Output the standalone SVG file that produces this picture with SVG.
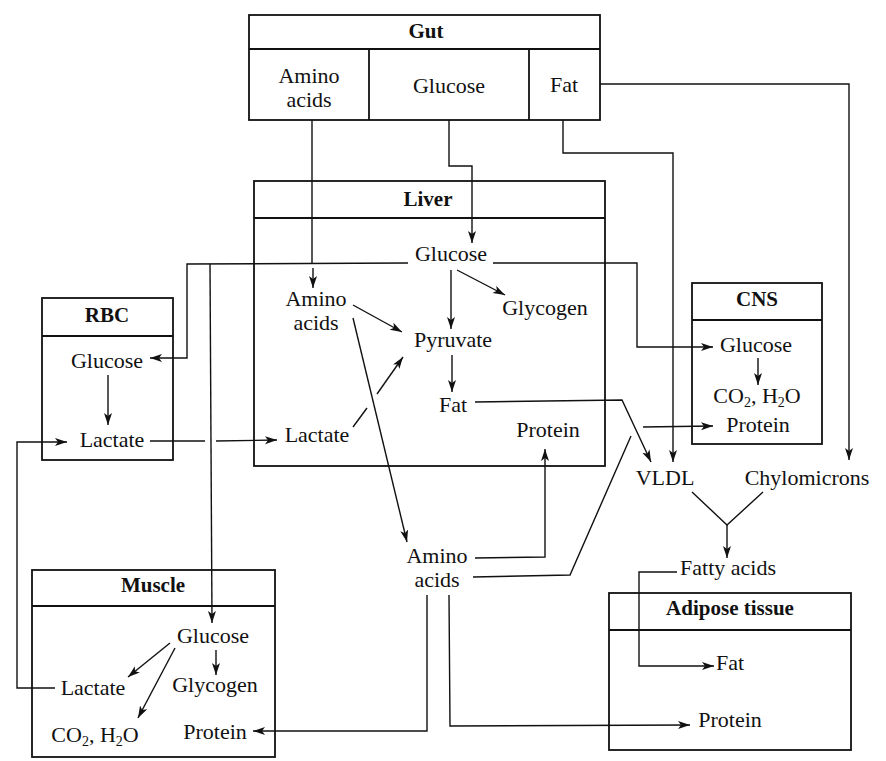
<svg xmlns="http://www.w3.org/2000/svg" width="886" height="761" viewBox="0 0 886 761">
<style>
.box{fill:none;stroke:#111;stroke-width:1.8}
.ln{fill:none;stroke:#111;stroke-width:1.4}
.ar{marker-end:url(#ah)}
text{font-family:"Liberation Serif","Times New Roman",serif;font-size:22px;fill:#111;text-anchor:middle}
.h{font-weight:bold;font-size:21px}
.sub{font-size:14px}
</style>
<defs>
<marker id="ah" markerUnits="userSpaceOnUse" markerWidth="14" markerHeight="10" refX="12" refY="4" orient="auto">
<path d="M0,0 L12,4 L0,8 L3,4 z" fill="#111"/>
</marker>
</defs>
<rect width="886" height="761" fill="#fff"/>

<g id="gut">
<rect class="box" x="249" y="15" width="351" height="105"/>
<line class="box" x1="249" y1="49" x2="600" y2="49"/>
<line class="box" x1="369" y1="49" x2="369" y2="120"/>
<line class="box" x1="529" y1="49" x2="529" y2="120"/>
<text class="h" x="426" y="38">Gut</text>
<text x="309" y="83">Amino</text>
<text x="309" y="107">acids</text>
<text x="449" y="93">Glucose</text>
<text x="564" y="92">Fat</text>
</g>

<g id="liver">
<rect class="box" x="254" y="181" width="351" height="285"/>
<line class="box" x1="254" y1="218" x2="605" y2="218"/>
<text class="h" x="428" y="206">Liver</text>
<text x="451" y="261">Glucose</text>
<text x="316" y="306">Amino</text>
<text x="316" y="330">acids</text>
<text x="545" y="315">Glycogen</text>
<text x="453" y="347">Pyruvate</text>
<text x="453" y="412">Fat</text>
<text x="317" y="442">Lactate</text>
<text x="548" y="437">Protein</text>
</g>

<g id="rbc">
<rect class="box" x="42" y="298" width="131" height="162"/>
<line class="box" x1="42" y1="336" x2="173" y2="336"/>
<text class="h" x="107" y="322">RBC</text>
<text x="107" y="368">Glucose</text>
<text x="112" y="447">Lactate</text>
</g>

<g id="cns">
<rect class="box" x="692" y="283" width="130" height="161"/>
<line class="box" x1="692" y1="320" x2="822" y2="320"/>
<text class="h" x="757" y="306">CNS</text>
<text x="756" y="352">Glucose</text>
<text x="757" y="403">CO<tspan class="sub" dy="4">2</tspan><tspan dy="-4">, H</tspan><tspan class="sub" dy="4">2</tspan><tspan dy="-4">O</tspan></text>
<text x="758" y="432">Protein</text>
</g>

<g id="lipoproteins">
<text x="665" y="485">VLDL</text>
<text x="807" y="485">Chylomicrons</text>
<text x="728" y="575">Fatty acids</text>
</g>

<g id="blood-amino">
<text x="437" y="563">Amino</text>
<text x="437" y="587">acids</text>
</g>

<g id="adipose">
<rect class="box" x="609" y="593" width="242" height="157"/>
<line class="box" x1="609" y1="630" x2="851" y2="630"/>
<text class="h" x="730" y="615">Adipose tissue</text>
<text x="730" y="670">Fat</text>
<text x="730" y="727">Protein</text>
</g>

<g id="muscle">
<rect class="box" x="32" y="570" width="243" height="187"/>
<line class="box" x1="32" y1="606" x2="275" y2="606"/>
<text class="h" x="153" y="592">Muscle</text>
<text x="213" y="643">Glucose</text>
<text x="215" y="692">Glycogen</text>
<text x="93" y="695">Lactate</text>
<text x="95" y="742">CO<tspan class="sub" dy="4">2</tspan><tspan dy="-4">, H</tspan><tspan class="sub" dy="4">2</tspan><tspan dy="-4">O</tspan></text>
<text x="215" y="739">Protein</text>
</g>

<g id="connectors">
<line class="ln" x1="312" y1="120" x2="312" y2="263"/>
<line class="ln ar" x1="313" y1="268" x2="313" y2="288"/>
<polyline class="ln ar" points="449,120 449,166 472,166 472,243"/>
<polyline class="ln ar" points="563,120 563,153 673,153 673,462"/>
<polyline class="ln ar" points="600,84 849,84 849,460"/>
<polyline class="ln ar" points="408,263 187,264 187,358 150,358"/>
<line class="ln ar" x1="210" y1="264" x2="212" y2="623"/>
<polyline class="ln ar" points="493,263 637,263 637,347 713,347"/>
<line class="ln ar" x1="457" y1="270" x2="505" y2="295"/>
<line class="ln ar" x1="451" y1="270" x2="451" y2="329"/>
<line class="ln ar" x1="353" y1="305" x2="402" y2="332"/>
<line class="ln" x1="353" y1="427" x2="367" y2="408"/>
<line class="ln ar" x1="377" y1="394" x2="403" y2="357"/>
<line class="ln ar" x1="452" y1="355" x2="452" y2="392"/>
<polyline class="ln ar" points="475,402 622,400 651,462"/>
<line class="ln ar" x1="353" y1="318" x2="407" y2="542"/>
<polyline class="ln ar" points="475,558 545,557 545,449"/>
<polyline class="ln" points="473,577 570,575 631,436"/>
<line class="ln ar" x1="643" y1="427" x2="713" y2="426"/>
<polyline class="ln ar" points="427,595 427,731 253,731"/>
<polyline class="ln ar" points="449,595 450,726 690,725"/>
<line class="ln ar" x1="108" y1="375" x2="108" y2="425"/>
<line class="ln" x1="150" y1="441" x2="205" y2="441"/>
<line class="ln ar" x1="216" y1="441" x2="277" y2="440"/>
<polyline class="ln ar" points="55,688 17,688 17,442 67,442"/>
<line class="ln ar" x1="758" y1="358" x2="758" y2="385"/>
<polyline class="ln" points="692,492 727,525 763,492"/>
<line class="ln ar" x1="727" y1="525" x2="727" y2="558"/>
<polyline class="ln ar" points="677,572 639,572 639,666 714,666"/>
<line class="ln ar" x1="170" y1="643" x2="128" y2="677"/>
<line class="ln ar" x1="175" y1="648" x2="138" y2="718"/>
<line class="ln ar" x1="216" y1="650" x2="216" y2="675"/>
</g>
</svg>
